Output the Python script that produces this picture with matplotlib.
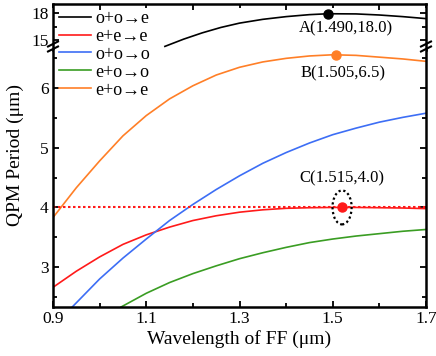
import matplotlib
matplotlib.use("Agg")
import matplotlib.pyplot as plt
from matplotlib.patches import Ellipse
from matplotlib.lines import Line2D
from matplotlib.ticker import MultipleLocator

plt.rcParams['font.family'] = ['Liberation Serif', 'DejaVu Serif']
plt.rcParams['mathtext.fontset'] = 'stix'

# ---- data ----
lam_ooe = [1.14, 1.18, 1.22, 1.26, 1.30, 1.35, 1.40, 1.45, 1.49, 1.55, 1.60, 1.65, 1.70]
p_ooe = [14.3, 15.1, 15.8, 16.4, 16.88, 17.3, 17.6, 17.82, 17.92, 17.9, 17.78, 17.6, 17.38]

lam_eee = [0.90, 0.95, 1.00, 1.05, 1.10, 1.15, 1.20, 1.25, 1.30, 1.35, 1.40, 1.45, 1.50, 1.55, 1.60, 1.65, 1.70]
p_eee = [2.66, 2.93, 3.17, 3.38, 3.54, 3.67, 3.78, 3.86, 3.92, 3.96, 3.985, 3.995, 4.0, 4.0, 3.995, 3.99, 3.98]

lam_ooo = [0.94, 0.95, 1.00, 1.05, 1.10, 1.15, 1.20, 1.25, 1.30, 1.35, 1.40, 1.45, 1.50, 1.55, 1.60, 1.65, 1.70]
p_ooo = [2.32, 2.40, 2.80, 3.15, 3.47, 3.78, 4.05, 4.30, 4.53, 4.74, 4.92, 5.08, 5.22, 5.33, 5.43, 5.51, 5.58]

lam_eoo = [1.046, 1.10, 1.15, 1.20, 1.25, 1.30, 1.35, 1.40, 1.45, 1.50, 1.55, 1.60, 1.65, 1.70]
p_eoo = [2.33, 2.56, 2.74, 2.89, 3.02, 3.14, 3.24, 3.33, 3.41, 3.47, 3.52, 3.56, 3.60, 3.63]

lam_eoe = [0.90, 0.95, 1.00, 1.05, 1.10, 1.15, 1.20, 1.25, 1.30, 1.35, 1.40, 1.45, 1.50, 1.55, 1.60, 1.65, 1.70]
p_eoe = [3.83, 4.33, 4.78, 5.20, 5.54, 5.82, 6.04, 6.22, 6.35, 6.44, 6.50, 6.54, 6.56, 6.55, 6.52, 6.49, 6.45]

labels = ['o+o→e', 'e+e→e', 'o+o→o', 'e+o→o', 'e+o→e']
colors = ['#000000', '#ff1a1a', '#3d6ef5', '#3a9d23', '#ff7f27']

target_period = 4.0
pointA = (1.490, 17.92)
pointB = (1.507, 6.56)
pointC = (1.520, 4.0)
textA = 'A(1.490,18.0)'
textB = 'B(1.505,6.5)'
textC = 'C(1.515,4.0)'

xticks = [0.9, 1.1, 1.3, 1.5, 1.7]
yticks_low = [3, 4, 5, 6]
yticks_top = [15, 18]

# ---- figure ----
W, H = 436, 356
fig = plt.figure(figsize=(W / 100, H / 100), dpi=100)
L, R = 53 / W, 426 / W
ax_top = fig.add_axes([L, (H - 50) / H, R - L, 46 / H])
ax = fig.add_axes([L, (H - 307) / H, R - L, 257 / H])

lw = 1.2
for a in (ax_top, ax):
    for s in a.spines.values():
        s.set_linewidth(1.8)
    a.set_xlim(0.9, 1.7)
    a.xaxis.set_major_locator(MultipleLocator(0.2))
    a.xaxis.set_minor_locator(MultipleLocator(0.1))
    a.tick_params(which='both', direction='in', top=True, right=True, width=1.3)
    a.tick_params(which='major', length=4.5, labelsize=12.5, pad=3)
    a.tick_params(which='minor', length=3)

ax_top.spines['bottom'].set_visible(False)
ax.spines['top'].set_visible(False)
ax_top.tick_params(which='both', bottom=False, labelbottom=False)
ax.tick_params(which='both', top=False)

ax_top.set_ylim(13.9, 19.0)
ax_top.set_yticks(yticks_top)
ax_top.yaxis.set_minor_locator(MultipleLocator(1.5))
ax.set_ylim(2.33, 6.64)
ax.set_yticks(yticks_low)
ax.yaxis.set_minor_locator(MultipleLocator(0.5))
ax.set_xticks(xticks)
ax.set_xticklabels([f'{v:.1f}' for v in xticks])

# curves
h0, = ax_top.plot(lam_ooe, p_ooe, color=colors[0], lw=lw)
h1, = ax.plot(lam_eee, p_eee, color=colors[1], lw=lw)
h2, = ax.plot(lam_ooo, p_ooo, color=colors[2], lw=lw)
h3, = ax.plot(lam_eoo, p_eoo, color=colors[3], lw=lw)
h4, = ax.plot(lam_eoe, p_eoe, color=colors[4], lw=lw)

ax.axhline(target_period, color=colors[1], lw=1.5, ls=(0, (1.2, 1.2)))

# points & labels
ax_top.plot(*pointA, 'o', color=colors[0], ms=6.5, zorder=5)
ax.plot(*pointB, 'o', color=colors[4], ms=6.5, zorder=5)
ax.plot(*pointC, 'o', color=colors[1], ms=6.5, zorder=5)
ax_top.text(1.528, 16.3, textA, ha='center', va='center', fontsize=12)
ax.text(1.521, 6.25, textB, ha='center', va='center', fontsize=12)
ax.text(1.519, 4.49, textC, ha='center', va='center', fontsize=12)
ax.add_patch(Ellipse(pointC, 0.041, 0.57, fill=False, ec='black', lw=1.6, ls=(0, (1, 1.2)), zorder=6))

# labels
ax.set_xlabel('Wavelength of FF (μm)', fontsize=14, labelpad=2)
fig.text(15 / W, (H - 155) / H, 'QPM Period (μm)', rotation=90, ha='center', va='center', fontsize=14)

# legend
fig.legend([h0, h1, h2, h3, h4], labels, loc='upper left', bbox_to_anchor=(59 / W, (H - 10) / H),
           frameon=False, fontsize=13, handlelength=1.75, handletextpad=0.25, labelspacing=0.05,
           borderaxespad=0, borderpad=0)

# break marks
for xs in (L, R):
    for yb in (44, 49):
        x0 = xs * W
        fig.add_artist(Line2D([(x0 - 5) / W, (x0 + 5) / W], [(H - yb - 2.5) / H, (H - yb + 2.5) / H],
                              color='black', lw=1.5, transform=fig.transFigure))

fig.savefig('out.png', dpi=100)
